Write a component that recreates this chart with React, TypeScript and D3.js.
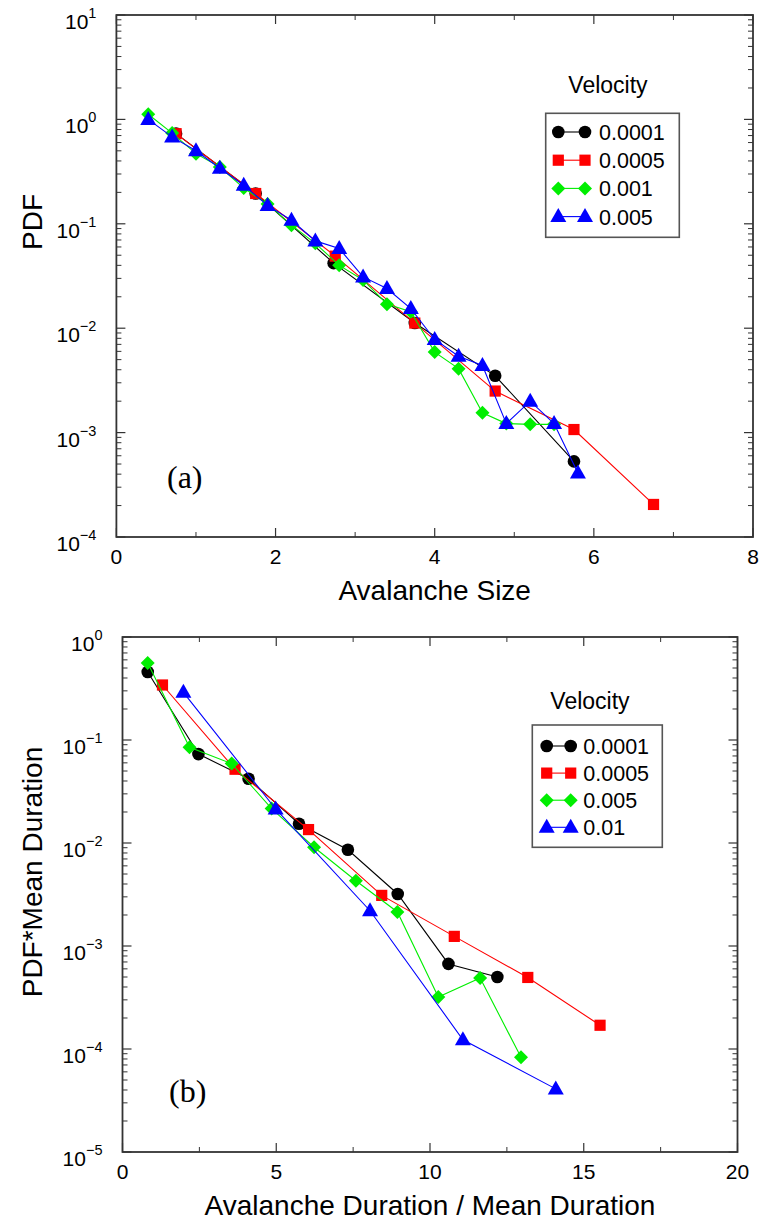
import React from "react";
import * as d3 from "d3";

// ---------- Data: panel (a) Avalanche Size ----------
const sizeX_v0001 = [0.75, 1.75, 2.73, 3.75, 4.76, 5.75];
const sizeY_v0001 = [0.73, 0.195, 0.042, 0.0112, 0.0035, 0.00053];
const sizeX_v0005 = [0.75, 1.75, 2.75, 3.75, 4.76, 5.75, 6.75];
const sizeY_v0005 = [0.73, 0.195, 0.049, 0.0112, 0.0025, 0.00107, 0.000205];
const sizeX_v001 = [0.4, 0.7, 1.0, 1.3, 1.6, 1.9, 2.2, 2.5, 2.8, 3.1, 3.4, 3.7, 4.0, 4.3, 4.6, 4.9, 5.2, 5.5];
const sizeY_v001 = [1.12, 0.74, 0.47, 0.35, 0.22, 0.155, 0.097, 0.065, 0.04, 0.029, 0.017, 0.0144, 0.0059, 0.0041, 0.00155, 0.00122, 0.0012, 0.0012];
const sizeX_v005 = [0.4, 0.7, 1.0, 1.3, 1.6, 1.9, 2.2, 2.5, 2.8, 3.1, 3.4, 3.7, 4.0, 4.3, 4.6, 4.9, 5.2, 5.5, 5.8];
const sizeY_v005 = [1.0, 0.68, 0.5, 0.34, 0.234, 0.15, 0.108, 0.0686, 0.058, 0.031, 0.024, 0.0154, 0.0078, 0.0054, 0.0044, 0.00122, 0.002, 0.00122, 0.00041];

// ---------- Data: panel (b) Avalanche Duration ----------
const durX_v0001 = [0.82, 2.47, 4.1, 5.74, 7.33, 8.95, 10.6, 12.19];
const durY_v0001 = [0.457, 0.073, 0.042, 0.0154, 0.0086, 0.0032, 0.00067, 0.0005];
const durX_v0005 = [1.3, 3.66, 6.05, 8.43, 10.79, 13.18, 15.53];
const durY_v0005 = [0.342, 0.052, 0.0135, 0.0031, 0.00124, 0.000495, 0.00017];
const durX_v005 = [0.82, 2.18, 3.55, 4.85, 6.23, 7.59, 8.94, 10.27, 11.63, 12.96];
const durY_v005 = [0.56, 0.085, 0.059, 0.0216, 0.0091, 0.0043, 0.00214, 0.00032, 0.00049, 0.000083];
const durX_v01 = [1.98, 4.98, 8.05, 11.07, 14.09];
const durY_v01 = [0.29, 0.0214, 0.0022, 0.000123, 0.000041];

// ---------- Labels ----------
const legendA = ["0.0001", "0.0005", "0.001", "0.005"];
const legendB = ["0.0001", "0.0005", "0.005", "0.01"];
const xTicksA = [0, 2, 4, 6, 8];
const xMinorA = [1, 3, 5, 7];
const yExpA = [1, 0, -1, -2, -3, -4];
const xTicksB = [0, 5, 10, 15, 20];
const xMinorB = [2.5, 7.5, 12.5, 17.5];
const yExpB = [0, -1, -2, -3, -4, -5];

const COLORS = ["#000000", "#ff0000", "#00ee00", "#0000ff"];
const SHAPES = ["circle", "square", "diamond", "triangle"];

const FONT = "'Liberation Sans', Arial, Helvetica, sans-serif";
const FRAME = "#333";

function Marker({ shape, x, y, color }: { shape: string; x: number; y: number; color: string }) {
  if (shape === "circle") return <circle cx={x} cy={y} r={6.3} fill={color} />;
  if (shape === "square") return <rect x={x - 5.6} y={y - 5.6} width={11.2} height={11.2} fill={color} />;
  if (shape === "diamond")
    return <path d={`M${x},${y - 7} L${x + 7},${y} L${x},${y + 7} L${x - 7},${y} Z`} fill={color} />;
  return <path d={`M${x},${y - 8.5} L${x + 8},${y + 5.5} L${x - 8},${y + 5.5} Z`} fill={color} />;
}

type Series = { xs: number[]; ys: number[] };

function Panel(props: {
  left: number; right: number; top: number; bottom: number;
  xDomain: [number, number]; yExp: number[]; xTicks: number[]; xMinor: number[];
  series: Series[]; xTitle: string; yTitle: string; yTitleX: number; yTitleY: number;
  tag: string; tagX: number; tagY: number;
  legend: string[]; lg: { x0: number; y0: number; w: number; h: number; titleX: number; titleY: number; rowY: number; step: number; m1: number; m2: number; tx: number };
}) {
  const { left, right, top, bottom } = props;
  const x = d3.scaleLinear().domain(props.xDomain).range([left, right]);
  const maxE = d3.max(props.yExp)!;
  const minE = d3.min(props.yExp)!;
  const y = d3.scaleLog().domain([Math.pow(10, minE), Math.pow(10, maxE)]).range([bottom, top]);
  const line = d3.line<[number, number]>().x((d) => x(d[0])).y((d) => y(d[1]));

  const minorY: number[] = [];
  for (let e = minE; e < maxE; e++) for (let k = 2; k <= 9; k++) minorY.push(k * Math.pow(10, e));

  const lg = props.lg;
  return (
    <g>
      {/* ticks */}
      {props.yExp.map((e) => {
        const yy = y(Math.pow(10, e));
        return (
          <g key={"ym" + e}>
            <line x1={left} x2={left + 9} y1={yy} y2={yy} stroke={FRAME} strokeWidth={1.2} />
            <line x1={right} x2={right - 9} y1={yy} y2={yy} stroke={FRAME} strokeWidth={1.2} />
            <text x={left - 20} y={yy + 14} textAnchor="end" fontFamily={FONT} fontSize={21} fill="#000">
              <tspan>10</tspan>
              <tspan dy={-11} fontSize={14.5}>{e < 0 ? "\u2212" + Math.abs(e) : String(e)}</tspan>
            </text>
          </g>
        );
      })}
      {minorY.map((v, i) => (
        <g key={"yn" + i}>
          <line x1={left} x2={left + 5} y1={y(v)} y2={y(v)} stroke={FRAME} strokeWidth={1} />
          <line x1={right} x2={right - 5} y1={y(v)} y2={y(v)} stroke={FRAME} strokeWidth={1} />
        </g>
      ))}
      {props.xTicks.map((t) => (
        <g key={"xm" + t}>
          <line x1={x(t)} x2={x(t)} y1={bottom} y2={bottom - 9} stroke={FRAME} strokeWidth={1.2} />
          <line x1={x(t)} x2={x(t)} y1={top} y2={top + 9} stroke={FRAME} strokeWidth={1.2} />
          <text x={x(t)} y={bottom + 27} textAnchor="middle" fontFamily={FONT} fontSize={21}>{t}</text>
        </g>
      ))}
      {props.xMinor.map((t) => (
        <g key={"xn" + t}>
          <line x1={x(t)} x2={x(t)} y1={bottom} y2={bottom - 5} stroke={FRAME} strokeWidth={1} />
          <line x1={x(t)} x2={x(t)} y1={top} y2={top + 5} stroke={FRAME} strokeWidth={1} />
        </g>
      ))}
      <rect x={left} y={top} width={right - left} height={bottom - top} fill="none" stroke={FRAME} strokeWidth={1.8} />

      {/* series */}
      {props.series.map((s, si) => {
        const pts: [number, number][] = s.xs.map((v, i) => [v, s.ys[i]]);
        return (
          <g key={"s" + si}>
            <path d={line(pts) || ""} fill="none" stroke={COLORS[si]} strokeWidth={1.1} />
            {pts.map((p, i) => (
              <Marker key={i} shape={SHAPES[si]} x={x(p[0])} y={y(p[1])} color={COLORS[si]} />
            ))}
          </g>
        );
      })}

      {/* titles */}
      <text x={(left + right) / 2} y={bottom + 63} textAnchor="middle" fontFamily={FONT} fontSize={28}>{props.xTitle}</text>
      <text transform={`translate(${props.yTitleX},${props.yTitleY}) rotate(-90)`} textAnchor="middle" fontFamily={FONT} fontSize={28}>{props.yTitle}</text>
      <text x={props.tagX} y={props.tagY} fontFamily="'Liberation Serif', 'Times New Roman', serif" fontSize={32}>{props.tag}</text>

      {/* legend */}
      <text x={lg.titleX} y={lg.titleY} textAnchor="middle" fontFamily={FONT} fontSize={23}>Velocity</text>
      <rect x={lg.x0} y={lg.y0} width={lg.w} height={lg.h} fill="#fff" stroke="#555" strokeWidth={1.6} />
      {props.legend.map((name, i) => {
        const ry = lg.rowY + i * lg.step;
        return (
          <g key={"lg" + i}>
            <line x1={lg.m1} x2={lg.m2} y1={ry} y2={ry} stroke={COLORS[i]} strokeWidth={1.1} />
            <Marker shape={SHAPES[i]} x={lg.m1} y={ry} color={COLORS[i]} />
            <Marker shape={SHAPES[i]} x={lg.m2} y={ry} color={COLORS[i]} />
            <text x={lg.tx} y={ry + 8} fontFamily={FONT} fontSize={21.5}>{name}</text>
          </g>
        );
      })}
    </g>
  );
}

export default function App() {
  const seriesA: Series[] = [
    { xs: sizeX_v0001, ys: sizeY_v0001 },
    { xs: sizeX_v0005, ys: sizeY_v0005 },
    { xs: sizeX_v001, ys: sizeY_v001 },
    { xs: sizeX_v005, ys: sizeY_v005 },
  ];
  const seriesB: Series[] = [
    { xs: durX_v0001, ys: durY_v0001 },
    { xs: durX_v0005, ys: durY_v0005 },
    { xs: durX_v005, ys: durY_v005 },
    { xs: durX_v01, ys: durY_v01 },
  ];
  return (
    <svg width={761} height={1228} style={{ position: "absolute", left: 0, top: 0, background: "#fff" }}>
      <rect x={0} y={0} width={761} height={1228} fill="#fff" />
      <Panel
        left={116.4} right={753} top={15} bottom={537}
        xDomain={[0, 8]} yExp={yExpA} xTicks={xTicksA} xMinor={xMinorA}
        series={seriesA} xTitle="Avalanche Size" yTitle="PDF" yTitleX={42} yTitleY={222}
        tag="(a)" tagX={167} tagY={488}
        legend={legendA}
        lg={{ x0: 545.7, y0: 113.3, w: 133.6, h: 124, titleX: 608, titleY: 93, rowY: 132, step: 28.2, m1: 558.3, m2: 585, tx: 599 }}
      />
      <Panel
        left={122.5} right={737.5} top={637} bottom={1152}
        xDomain={[0, 20]} yExp={yExpB} xTicks={xTicksB} xMinor={xMinorB}
        series={seriesB} xTitle="Avalanche Duration / Mean Duration" yTitle="PDF*Mean Duration" yTitleX={42} yTitleY={872}
        tag="(b)" tagX={169} tagY={1102}
        legend={legendB}
        lg={{ x0: 532.3, y0: 725, w: 130, h: 122.3, titleX: 590, titleY: 709, rowY: 746, step: 27.1, m1: 546.7, m2: 570.7, tx: 583.3 }}
      />
    </svg>
  );
}
